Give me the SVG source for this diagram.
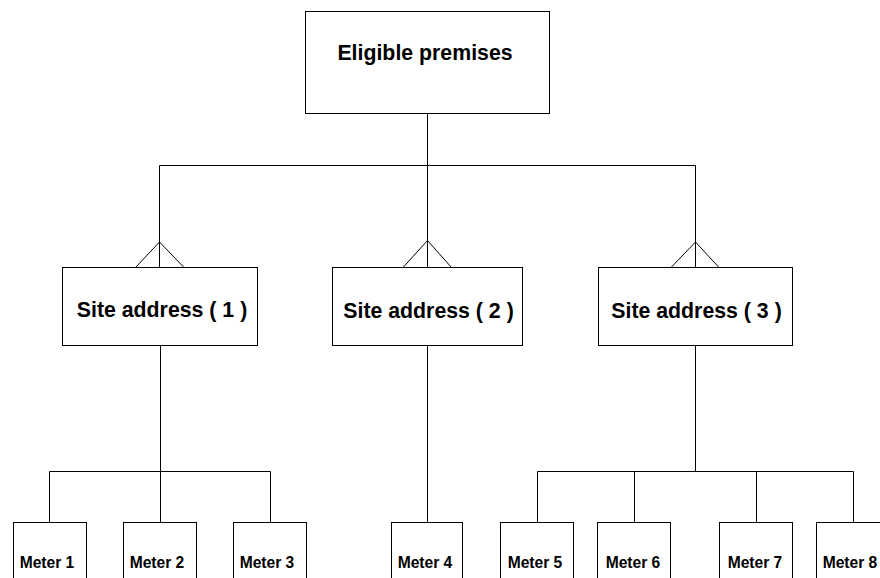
<svg xmlns="http://www.w3.org/2000/svg" width="880" height="578" viewBox="0 0 880 578">
<style>
.box{fill:#fff;stroke:#000;stroke-width:1}
.ln{fill:none;stroke:#000;stroke-width:1}
.big{font-family:"Liberation Sans",Arial,sans-serif;font-weight:bold;font-size:21.3px;fill:#000;text-anchor:middle}
.sm{font-family:"Liberation Sans",Arial,sans-serif;font-weight:bold;font-size:15.6px;fill:#000;text-anchor:middle}
</style>
<rect width="880" height="578" fill="#fff"/>
<g id="connectors">
<path class="ln" d="M427.5 113V267.5M159.5 165.5H695.5M159.5 165.5V267.5M695.5 165.5V267.5"/>
<path class="ln" d="M135.5 267.5L159.5 242L184 267.5M403 267.5L427.5 240.5L451.5 267.5M671 267.5L695.5 242L719 267.5"/>
<path class="ln" d="M160.5 345V522.5M49.5 471.5H270.5M49.5 471.5V522.5M270.5 471.5V522.5"/>
<path class="ln" d="M427.5 346V522.5"/>
<path class="ln" d="M695.5 346V471.5M537.5 471.5H853.5M537.5 471.5V522.5M634.5 471.5V522.5M756.5 471.5V522.5M853.5 471.5V522.5"/>
</g>
<g id="premises"><rect class="box" x="305.5" y="11.5" width="244" height="102"/><text class="big" x="425" y="60">Eligible premises</text></g>
<g id="site1"><rect class="box" x="62.5" y="267.5" width="195" height="78"/><text class="big" x="162" y="317">Site address ( 1 )</text></g>
<g id="site2"><rect class="box" x="332.5" y="267.5" width="190" height="78"/><text class="big" x="428.5" y="318">Site address ( 2 )</text></g>
<g id="site3"><rect class="box" x="598.5" y="267.5" width="194" height="78"/><text class="big" x="696.5" y="318">Site address ( 3 )</text></g>
<g id="meter1"><rect class="box" x="13.5" y="522.5" width="73" height="70"/><text class="sm" x="47" y="567.5">Meter 1</text></g>
<g id="meter2"><rect class="box" x="123.5" y="522.5" width="73" height="70"/><text class="sm" x="157" y="567.5">Meter 2</text></g>
<g id="meter3"><rect class="box" x="233.5" y="522.5" width="73" height="70"/><text class="sm" x="267" y="567.5">Meter 3</text></g>
<g id="meter4"><rect class="box" x="391.5" y="522.5" width="71" height="70"/><text class="sm" x="425" y="567.5">Meter 4</text></g>
<g id="meter5"><rect class="box" x="500.5" y="522.5" width="73" height="70"/><text class="sm" x="535" y="567.5">Meter 5</text></g>
<g id="meter6"><rect class="box" x="597.5" y="522.5" width="73" height="70"/><text class="sm" x="633" y="567.5">Meter 6</text></g>
<g id="meter7"><rect class="box" x="719.5" y="522.5" width="73" height="70"/><text class="sm" x="755" y="567.5">Meter 7</text></g>
<g id="meter8"><rect class="box" x="816.5" y="522.5" width="73" height="70"/><text class="sm" x="850" y="567.5">Meter 8</text></g>
</svg>
